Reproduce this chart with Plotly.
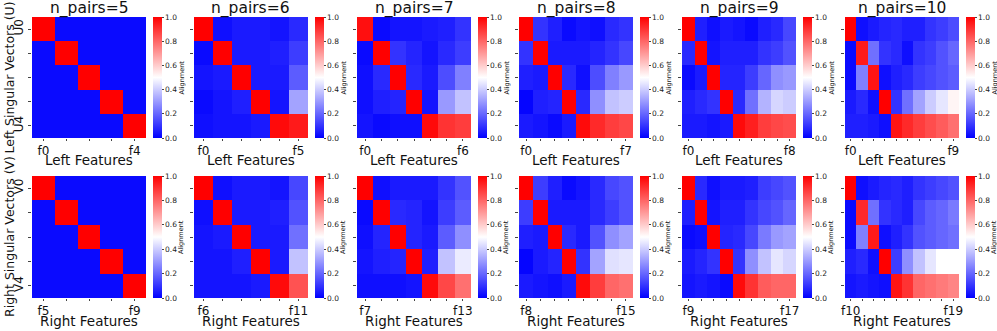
import plotly.graph_objects as go

N_PAIRS = [5, 6, 7, 8, 9, 10]

# alignment matrices, rows = singular vectors 0..4, cols = features
left_5 = [
    [1.0, 0.02, 0.02, 0.02, 0.02],
    [0.02, 1.0, 0.02, 0.02, 0.02],
    [0.02, 0.02, 1.0, 0.02, 0.02],
    [0.02, 0.02, 0.02, 1.0, 0.02],
    [0.02, 0.02, 0.02, 0.02, 1.0],
]
left_6 = [
    [1.0, 0.03, 0.05, 0.05, 0.04, 0.08],
    [0.02, 1.0, 0.05, 0.05, 0.06, 0.12],
    [0.04, 0.05, 1.0, 0.05, 0.05, 0.18],
    [0.02, 0.04, 0.06, 1.0, 0.04, 0.32],
    [0.03, 0.04, 0.04, 0.05, 0.98, 0.95],
]
left_7 = [
    [0.97, 0.02, 0.04, 0.04, 0.05, 0.06, 0.10],
    [0.02, 1.0, 0.10, 0.07, 0.04, 0.08, 0.12],
    [0.03, 0.08, 1.0, 0.08, 0.05, 0.15, 0.25],
    [0.03, 0.06, 0.07, 1.0, 0.04, 0.30, 0.38],
    [0.04, 0.02, 0.03, 0.03, 0.98, 0.90, 0.88],
]
left_8 = [
    [1.0, 0.10, 0.06, 0.02, 0.04, 0.03, 0.08, 0.10],
    [0.10, 1.0, 0.05, 0.05, 0.05, 0.07, 0.10, 0.14],
    [0.06, 0.05, 1.0, 0.08, 0.03, 0.15, 0.25, 0.30],
    [0.01, 0.06, 0.07, 1.0, 0.08, 0.28, 0.38, 0.40],
    [0.05, 0.04, 0.02, 0.05, 0.98, 0.92, 0.88, 0.86],
]
left_9 = [
    [1.0, 0.06, 0.03, 0.05, 0.04, 0.02, 0.06, 0.08, 0.14],
    [0.08, 1.0, 0.04, 0.06, 0.06, 0.06, 0.10, 0.12, 0.16],
    [0.02, 0.05, 1.0, 0.07, 0.07, 0.12, 0.20, 0.28, 0.30],
    [0.06, 0.08, 0.10, 1.0, 0.08, 0.22, 0.35, 0.42, 0.40],
    [0.05, 0.05, 0.04, 0.05, 0.98, 0.94, 0.88, 0.86, 0.85],
]
left_10 = [
    [1.0, 0.03, 0.05, 0.07, 0.08, 0.06, 0.06, 0.10, 0.12, 0.15],
    [0.02, 0.95, 0.22, 0.10, 0.08, 0.03, 0.10, 0.12, 0.16, 0.20],
    [0.02, 0.25, 0.96, 0.03, 0.06, 0.08, 0.12, 0.14, 0.16, 0.18],
    [0.05, 0.08, 0.03, 1.0, 0.10, 0.22, 0.32, 0.40, 0.45, 0.52],
    [0.06, 0.06, 0.05, 0.03, 0.96, 0.92, 0.88, 0.85, 0.82, 0.78],
]

right_5 = [
    [1.0, 0.02, 0.02, 0.02, 0.02],
    [0.02, 1.0, 0.02, 0.02, 0.02],
    [0.02, 0.02, 1.0, 0.02, 0.02],
    [0.02, 0.02, 0.02, 1.0, 0.02],
    [0.02, 0.02, 0.02, 0.02, 1.0],
]
right_6 = [
    [1.0, 0.03, 0.05, 0.05, 0.04, 0.14],
    [0.03, 1.0, 0.05, 0.05, 0.06, 0.16],
    [0.04, 0.05, 1.0, 0.05, 0.05, 0.22],
    [0.04, 0.04, 0.06, 1.0, 0.05, 0.38],
    [0.04, 0.04, 0.04, 0.05, 0.98, 0.84],
]
right_7 = [
    [1.0, 0.03, 0.05, 0.05, 0.05, 0.10, 0.16],
    [0.02, 1.0, 0.08, 0.07, 0.04, 0.12, 0.18],
    [0.03, 0.07, 1.0, 0.07, 0.05, 0.18, 0.28],
    [0.04, 0.06, 0.07, 1.0, 0.06, 0.38, 0.46],
    [0.03, 0.03, 0.03, 0.04, 0.98, 0.86, 0.78],
]
right_8 = [
    [1.0, 0.12, 0.06, 0.02, 0.04, 0.08, 0.14, 0.16],
    [0.12, 1.0, 0.05, 0.05, 0.05, 0.08, 0.12, 0.16],
    [0.06, 0.05, 1.0, 0.08, 0.05, 0.16, 0.28, 0.32],
    [0.01, 0.05, 0.07, 1.0, 0.10, 0.32, 0.44, 0.45],
    [0.05, 0.04, 0.03, 0.05, 0.98, 0.88, 0.80, 0.78],
]
right_9 = [
    [1.0, 0.08, 0.03, 0.05, 0.05, 0.06, 0.12, 0.14, 0.16],
    [0.06, 1.0, 0.04, 0.06, 0.06, 0.10, 0.14, 0.16, 0.20],
    [0.02, 0.03, 1.0, 0.07, 0.08, 0.14, 0.24, 0.30, 0.32],
    [0.05, 0.07, 0.10, 1.0, 0.10, 0.28, 0.38, 0.45, 0.42],
    [0.04, 0.05, 0.04, 0.02, 0.98, 0.90, 0.82, 0.80, 0.80],
]
right_10 = [
    [1.0, 0.03, 0.05, 0.07, 0.08, 0.06, 0.10, 0.12, 0.14, 0.16],
    [0.02, 0.92, 0.22, 0.10, 0.08, 0.06, 0.14, 0.18, 0.20, 0.24],
    [0.02, 0.25, 0.95, 0.03, 0.06, 0.10, 0.16, 0.18, 0.20, 0.22],
    [0.06, 0.08, 0.03, 1.0, 0.12, 0.28, 0.38, 0.45, 0.50, 0.50],
    [0.04, 0.05, 0.04, 0.03, 0.96, 0.90, 0.80, 0.78, 0.76, 0.74],
]

LEFT = [left_5, left_6, left_7, left_8, left_9, left_10]
RIGHT = [right_5, right_6, right_7, right_8, right_9, right_10]

W, H = 997, 331
FONT = "DejaVu Sans"
BWR = [[0, "rgb(0,0,255)"], [0.5, "rgb(255,255,255)"], [1, "rgb(255,0,0)"]]

col_left = [32, 194, 357, 519, 682, 845]   # px, left edge of each heatmap
hm_w = 114
cb_gap, cb_w = 7, 9
rows_px = [(17, 138), (176, 298)]          # px, top/bottom of each row
xtitle_y = [160, 321]                      # px, centre of the x axis titles


def px_x(v):
    return v / W


def px_y(v):
    return 1 - v / H


def note(text, x, y, size, angle=0):
    fig.add_annotation(
        text=text, xref="paper", yref="paper", x=x, y=y, textangle=angle,
        xanchor="center", yanchor="middle", showarrow=False,
        font=dict(size=size, family=FONT, color="#111"),
    )


fig = go.Figure()
layout = {}
k = 0
for r, (mats, vec, feat) in enumerate([(LEFT, "U", "Left"), (RIGHT, "V", "Right")]):
    y_top, y_bot = rows_px[r]
    ydom = [px_y(y_bot), px_y(y_top)]
    for c, n in enumerate(N_PAIRS):
        k += 1
        z = mats[c]
        offset = 0 if r == 0 else n
        xdom = [px_x(col_left[c]), px_x(col_left[c] + hm_w)]
        cb_x = col_left[c] + hm_w + cb_gap
        fig.add_trace(go.Heatmap(
            z=z, x=list(range(n)), y=list(range(5)),
            xaxis=f"x{k}", yaxis=f"y{k}",
            colorscale=BWR, zmin=0, zmax=1,
            colorbar=dict(
                x=px_x(cb_x), xanchor="left", xpad=0,
                y=sum(ydom) / 2, yanchor="middle", len=ydom[1] - ydom[0], ypad=0,
                thickness=cb_w, outlinewidth=0,
                tickvals=[0, 0.2, 0.4, 0.6, 0.8, 1.0], ticktext=["0.0", "0.2", "0.4", "0.6", "0.8", "1.0"],
                ticks="outside", ticklen=2, tickfont=dict(size=7.5, family=FONT, color="#222"),
            ),
            hovertemplate="%{z:.2f}<extra></extra>",
        ))
        xt = [f"f{offset}"] + [""] * (n - 2) + [f"f{offset + n - 1}"]
        yt = [f"{vec}0", "", "", "", f"{vec}4"]
        layout[f"xaxis{k}"] = dict(
            domain=xdom, anchor=f"y{k}", range=[-0.5, n - 0.5], automargin=False,
            tickvals=list(range(n)), ticktext=xt, ticks="outside", ticklen=2,
            tickfont=dict(size=12, family=FONT, color="#111"), showgrid=False, zeroline=False,
        )
        layout[f"yaxis{k}"] = dict(
            domain=ydom, anchor=f"x{k}", range=[4.5, -0.5], automargin=False,
            tickvals=list(range(5)), ticktext=yt if c == 0 else [""] * 5,
            ticks="outside", ticklen=3, tickangle=-90,
            tickfont=dict(size=12, family=FONT, color="#111"), showgrid=False, zeroline=False,
        )
        note(f"{feat} Features", px_x(col_left[c] + hm_w / 2), px_y(xtitle_y[r]), 13.5)
        note("Alignment", px_x(cb_x + 28), sum(ydom) / 2, 6.5, -90)
        if r == 0:
            note(f"n_pairs={n}", px_x(col_left[c] + hm_w / 2), px_y(9), 15.5)
    note(f"{feat} Singular Vectors ({vec})", px_x(9), sum(ydom) / 2, 12.5, -90)

fig.update_layout(
    width=W, height=H, margin=dict(l=0, r=0, t=0, b=0, autoexpand=False),
    plot_bgcolor="white", paper_bgcolor="white",
    font=dict(family=FONT), **layout,
)
fig.write_html("out.html", config={"displayModeBar": False},
               post_script="document.body.style.margin='0';")
